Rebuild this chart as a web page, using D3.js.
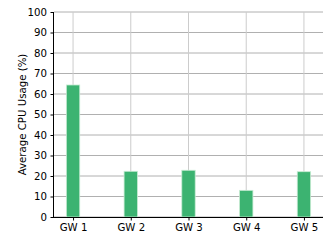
<!DOCTYPE html>
<html>
<head>
<meta charset="utf-8">
<script src="https://cdn.jsdelivr.net/npm/d3@7"></script>
<style>
  body { margin: 0; background: #fff; }
  text { font-family: "DejaVu Sans", sans-serif; }
</style>
</head>
<body>
<div class="chart"></div>
<script>
// values
let gateways = ["GW 1", "GW 2", "GW 3", "GW 4", "GW 5"];
let cpuUsage = [64.4, 22.3, 22.8, 13.0, 22.1];
let yTicks = [0, 10, 20, 30, 40, 50, 60, 70, 80, 90, 100];

let outerWidth = 327, outerHeight = 245;
let margin = {top: 12, right: 4, bottom: 28, left: 54};
let width = outerWidth - margin.left - margin.right, height = outerHeight - margin.top - margin.bottom;

let svg = d3.select('.chart').append('svg')
    .attr('width', outerWidth)
    .attr('height', outerHeight)
    .append("g")
    .attr("transform", "translate(" + margin.left + "," + margin.top + ")");

// categories sit at integer positions, matplotlib style padding on both sides
const xScale = d3.scaleLinear()
    .domain([-0.33, gateways.length - 1 + 0.33])
    .range([0, width]);

const yScale = d3.scaleLinear()
    .domain([0, 100])
    .range([height, 0]);

let barW = xScale(0.232) - xScale(0);

// grid
svg.append("g").selectAll("line.hg")
    .data(yTicks)
    .enter().append("line")
    .attr("x1", 0).attr("x2", width)
    .attr("y1", d => yScale(d)).attr("y2", d => yScale(d))
    .attr("stroke", "#b0b0b0").attr("stroke-width", 1);

svg.append("g").selectAll("line.vg")
    .data(gateways)
    .enter().append("line")
    .attr("x1", (d, i) => xScale(i)).attr("x2", (d, i) => xScale(i))
    .attr("y1", 0).attr("y2", height)
    .attr("stroke", "#cccccc").attr("stroke-width", 1);

svg.selectAll("rect.bar")
    .data(cpuUsage)
    .enter().append("rect")
    .attr("x", (d, i) => xScale(i) - barW / 2)
    .attr("y", d => yScale(d))
    .attr("width", barW)
    .attr("height", d => height - yScale(d))
    .attr("fill", "#3cb371")
    .attr("stroke", "#c8ecd4")
    .attr("stroke-width", 0.8);

let xAxis = d3.axisBottom(xScale)
    .tickValues(d3.range(gateways.length))
    .tickFormat(i => gateways[i])
    .tickSize(3.5).tickPadding(3.5);

let yAxis = d3.axisLeft(yScale)
    .tickValues(yTicks)
    .tickSize(3.5).tickPadding(3.5);

svg.append("g")
    .attr("class", "axis x-axis")
    .attr("transform", `translate(0, ${height})`)
    .call(xAxis)
    .call(g => g.select(".domain").attr("d", `M0,0.5H${width}`));

svg.append("g")
    .attr("class", "axis y-axis")
    .call(yAxis)
    .call(g => g.select(".domain").attr("d", `M-0.5,0V${height}`));

svg.selectAll(".axis text")
    .attr("font-size", "10.2px")
    .attr("fill", "#000")
    .style("font-family", "DejaVu Sans");
svg.selectAll(".axis line, .axis path").attr("stroke", "#000").attr("stroke-width", 1);

svg.append("text")
    .attr("transform", `translate(${-28}, ${height / 2}) rotate(-90)`)
    .attr("text-anchor", "middle")
    .attr("font-size", "10.2px")
    .text("Average CPU Usage (%)");
</script>
</body>
</html>
